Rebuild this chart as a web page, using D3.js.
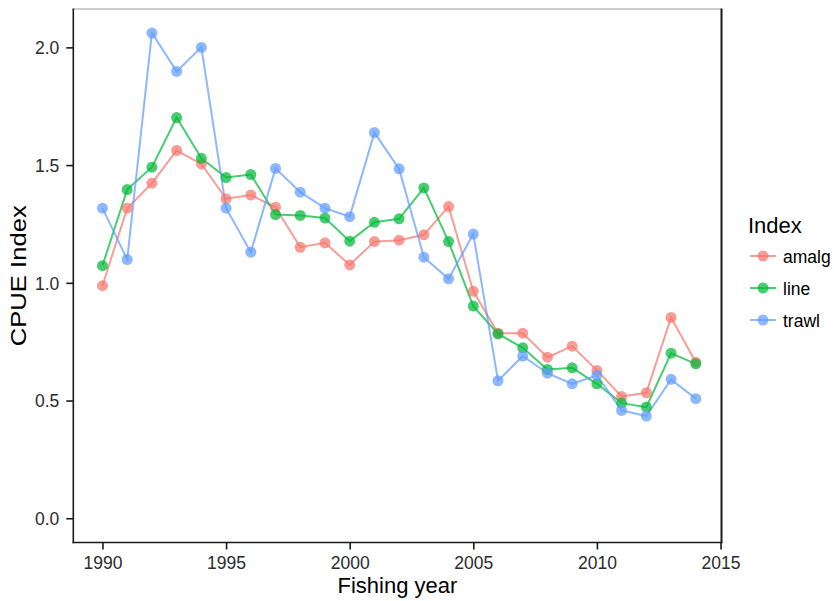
<!DOCTYPE html>
<html>
<head>
<meta charset="utf-8">
<script src="https://cdn.jsdelivr.net/npm/d3@7"></script>
<style>
  html, body { margin: 0; padding: 0; background: #fff; }
  svg { display: block; font-family: "Liberation Sans", Arial, sans-serif; }
</style>
</head>
<body>
<svg id="chart" width="834" height="601"></svg>
<script>
// Fishing years and CPUE index series
const years = [1990,1991,1992,1993,1994,1995,1996,1997,1998,1999,2000,2001,2002,
               2003,2004,2005,2006,2007,2008,2009,2010,2011,2012,2013,2014];
const amalg = [0.988,1.317,1.423,1.562,1.505,1.357,1.373,1.321,1.151,1.170,1.076,1.175,1.181,
               1.204,1.324,0.964,0.786,0.786,0.684,0.731,0.628,0.517,0.533,0.853,0.663];
const line  = [1.073,1.396,1.491,1.702,1.529,1.447,1.460,1.290,1.286,1.275,1.177,1.257,1.272,
               1.403,1.175,0.901,0.783,0.724,0.632,0.639,0.571,0.489,0.472,0.701,0.656];
const trawl = [1.317,1.099,2.061,1.898,2.000,1.317,1.130,1.486,1.385,1.317,1.281,1.638,1.484,
               1.109,1.017,1.207,0.584,0.689,0.616,0.571,0.607,0.458,0.434,0.590,0.508];
const seriesNames = ["amalg", "line", "trawl"];
const seriesColors = ["#F8766D", "#00BA38", "#619CFF"];
const xTicks = [1990, 1995, 2000, 2005, 2010, 2015];
const yTicks = [0.0, 0.5, 1.0, 1.5, 2.0];

const series = [amalg, line, trawl].map((vals, i) => ({
  name: seriesNames[i],
  color: seriesColors[i],
  points: years.map((yr, j) => ({ year: yr, value: vals[j] }))
}));

const svg = d3.select("#chart");
const panel = { left: 73.3, right: 721.5, top: 9, bottom: 542.5 };

const x = d3.scaleLinear().domain([1988.82, 2015.04]).range([panel.left, panel.right]);
const y = d3.scaleLinear().domain([-0.103, 2.163]).range([panel.bottom, panel.top]);

// panel frame: light top edge, dark right edge
svg.append("line")
  .attr("x1", panel.left).attr("x2", panel.right)
  .attr("y1", panel.top).attr("y2", panel.top)
  .attr("stroke", "#9a9a9a").attr("stroke-width", 1);
svg.append("line")
  .attr("x1", panel.right).attr("x2", panel.right)
  .attr("y1", panel.top - 0.5).attr("y2", panel.bottom)
  .attr("stroke", "#1a1a1a").attr("stroke-width", 2);

// axes
const xAxis = d3.axisBottom(x).tickValues(xTicks).tickFormat(d3.format("d"))
  .tickSize(7).tickPadding(7).tickSizeOuter(0);
const yAxis = d3.axisLeft(y).tickValues(yTicks).tickFormat(d3.format(".1f"))
  .tickSize(7).tickPadding(7).tickSizeOuter(0);

const gx = svg.append("g").attr("transform", `translate(0,${panel.bottom})`).call(xAxis);
const gy = svg.append("g").attr("transform", `translate(${panel.left},0)`).call(yAxis);

[gx, gy].forEach(g => {
  g.select(".domain").remove();
  g.selectAll(".tick line").attr("stroke", "#1a1a1a").attr("stroke-width", 1.6);
  g.selectAll(".tick text").attr("fill", "#2b2b2b")
    .style("font-size", "17.5px").style("font-family", "Liberation Sans, Arial, sans-serif");
});
gy.selectAll(".tick text").attr("dy", "0.36em");

// axis lines
svg.append("line")
  .attr("x1", panel.left).attr("x2", panel.left)
  .attr("y1", panel.top - 0.5).attr("y2", panel.bottom + 0.8)
  .attr("stroke", "#1a1a1a").attr("stroke-width", 1.6);
svg.append("line")
  .attr("x1", panel.left - 0.8).attr("x2", panel.right + 1)
  .attr("y1", panel.bottom).attr("y2", panel.bottom)
  .attr("stroke", "#1a1a1a").attr("stroke-width", 1.6);

// axis titles
svg.append("text")
  .attr("x", (panel.left + panel.right) / 2).attr("y", 593)
  .attr("text-anchor", "middle")
  .style("font-size", "22px").attr("fill", "#000")
  .text("Fishing year");
svg.append("text")
  .attr("transform", `translate(25.5,${(panel.top + panel.bottom) / 2}) rotate(-90)`)
  .attr("text-anchor", "middle")
  .attr("textLength", 141).attr("lengthAdjust", "spacingAndGlyphs")
  .style("font-size", "22px").attr("fill", "#000")
  .text("CPUE Index");

// data lines
const lineGen = d3.line().x(d => x(d.year)).y(d => y(d.value));
const plot = svg.append("g");
series.forEach(s => {
  plot.append("path")
    .datum(s.points)
    .attr("d", lineGen)
    .attr("fill", "none")
    .attr("stroke", s.color)
    .attr("stroke-width", 2)
    .attr("stroke-opacity", 0.72);
});
// data points
series.forEach(s => {
  plot.append("g").selectAll("circle")
    .data(s.points)
    .join("circle")
    .attr("cx", d => x(d.year))
    .attr("cy", d => y(d.value))
    .attr("r", 5.5)
    .attr("fill", s.color)
    .attr("fill-opacity", 0.72);
});

// legend
const legend = svg.append("g");
legend.append("text")
  .attr("x", 748).attr("y", 233)
  .style("font-size", "22px").attr("fill", "#000")
  .text("Index");
series.forEach((s, i) => {
  const cy = 256 + i * 32;
  legend.append("line")
    .attr("x1", 750).attr("x2", 776)
    .attr("y1", cy).attr("y2", cy)
    .attr("stroke", s.color).attr("stroke-width", 2).attr("stroke-opacity", 0.72);
  legend.append("circle")
    .attr("cx", 763).attr("cy", cy).attr("r", 5.5)
    .attr("fill", s.color).attr("fill-opacity", 0.72);
  legend.append("text")
    .attr("x", 783).attr("y", cy + 6.5)
    .style("font-size", "17.5px").attr("fill", "#000")
    .text(s.name);
});
</script>
</body>
</html>
